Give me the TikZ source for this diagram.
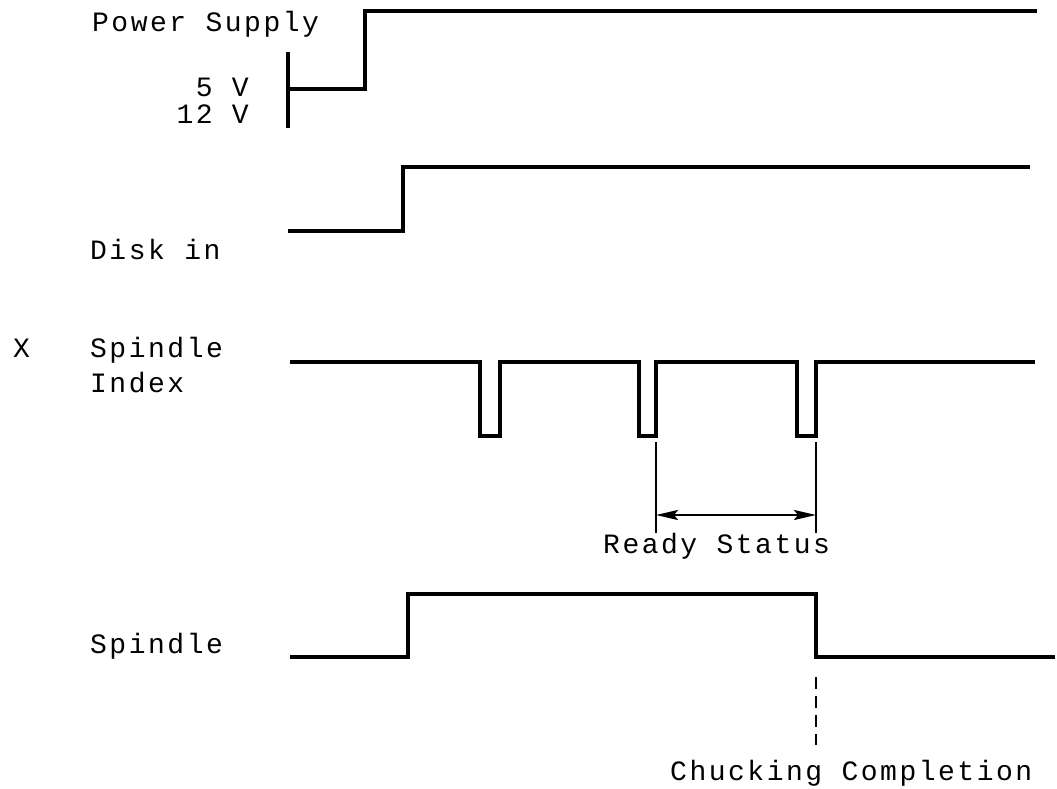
\documentclass[tikz,border=0pt]{standalone}
\usepackage{fontspec}
\newfontfamily\typew{Liberation Mono}[LetterSpace=9]
\usetikzlibrary{arrows.meta}
\begin{document}
\begin{tikzpicture}[x=1pt,y=-1pt,
  wave/.style={line width=3.2pt, line join=miter, line cap=butt},
  thin/.style={line width=2.5pt},
  lbl/.style={font=\fontsize{28}{34}\selectfont\typew, inner sep=0pt, anchor=base west, text height=19pt, text depth=0pt},
  lblr/.style={lbl, anchor=base east},
  dim/.style={line width=2.5pt, {Stealth[length=22pt,width=10pt,inset=4pt]}-{Stealth[length=22pt,width=10pt,inset=4pt]}}]
\path[use as bounding box] (0,0) rectangle (1057,788);

% Power supply
\node[lbl] (ps) at (92,31) {Power Supply};
\node[lblr] (v5) at (249,96) {5 V};
\node[lblr] (v12) at (249,123) {12 V};
\coordinate (pbt) at (288,52);
\coordinate (pbb) at (288,128);
\coordinate (pl0) at (288,89);
\coordinate (pl1) at (365,89);
\coordinate (ph1) at (365,11);
\coordinate (ph2) at (1037,11);
\draw[wave] (pbt) -- (pbb);
\draw[wave] (pl0) -- (pl1) -- (ph1) -- (ph2);

% Disk in
\node[lbl] (disk) at (90,259) {Disk in};
\coordinate (d0) at (288,231);
\coordinate (d1) at (403,231);
\coordinate (d2) at (403,167);
\coordinate (d3) at (1030,167);
\draw[wave] (d0) -- (d1) -- (d2) -- (d3);

% Spindle index
\node[lbl] (x) at (13,357) {X};
\node[lbl] (si1) at (90,357) {Spindle};
\node[lbl] (si2) at (90,392) {Index};
\coordinate (i0) at (290,362);
\coordinate (a1) at (480,362); \coordinate (a2) at (480,436);
\coordinate (a3) at (500,436); \coordinate (a4) at (500,362);
\coordinate (b1) at (639,362); \coordinate (b2) at (639,436);
\coordinate (b3) at (656,436); \coordinate (b4) at (656,362);
\coordinate (c1) at (797,362); \coordinate (c2) at (797,436);
\coordinate (c3) at (816,436); \coordinate (c4) at (816,362);
\coordinate (i9) at (1035,362);
\draw[wave] (i0) -- (a1) -- (a2) -- (a3) -- (a4) -- (b1) -- (b2) -- (b3) -- (b4)
  -- (c1) -- (c2) -- (c3) -- (c4) -- (i9);

% Ready status
\coordinate (r1t) at (656,442); \coordinate (r1b) at (656,533);
\coordinate (r2t) at (816,442); \coordinate (r2b) at (816,533);
\coordinate (ra) at (656,515); \coordinate (rb) at (816,515);
\draw[thin] (r1t) -- (r1b);
\draw[thin] (r2t) -- (r2b);
\draw[dim] (ra) -- (rb);
\node[lbl] (ready) at (603,553) {Ready Status};

% Spindle
\node[lbl] (sp) at (90,653) {Spindle};
\coordinate (s0) at (290,657);
\coordinate (s1) at (408,657);
\coordinate (s2) at (408,594);
\coordinate (s3) at (816,594);
\coordinate (s4) at (816,657);
\coordinate (s5) at (1055,657);
\draw[wave] (s0) -- (s1) -- (s2) -- (s3) -- (s4) -- (s5);

% Chucking completion
\coordinate (k0) at (816,677);
\coordinate (k1) at (816,745);
\draw[line width=2.8pt, dash pattern=on 12pt off 7pt] (k0) -- (k1);
\node[lbl] (chuck) at (670,780) {Chucking Completion};
\end{tikzpicture}
\end{document}
